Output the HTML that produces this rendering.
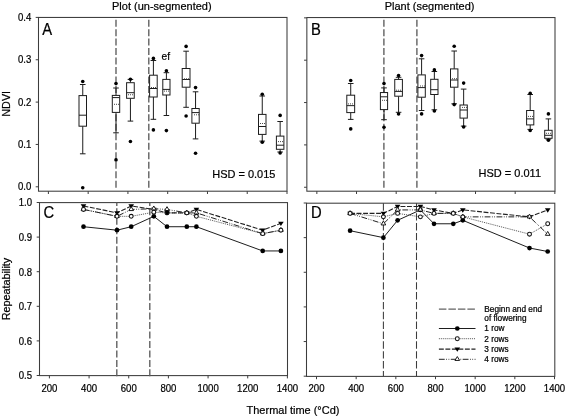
<!DOCTYPE html>
<html><head><meta charset="utf-8"><title>NDVI and repeatability</title>
<style>
html,body{margin:0;padding:0;background:#fff;}
body{width:567px;height:418px;overflow:hidden;}
svg{display:block;will-change:transform;}
text{font-family:"Liberation Sans", sans-serif;fill:#000;}
</style></head>
<body>
<svg width="567" height="418" viewBox="0 0 567 418">
<rect x="0" y="0" width="567" height="418" fill="#fff"/>
<rect x="38.5" y="17.45" width="248.50" height="173.75" fill="none" stroke="#3c3c3c" stroke-width="1.05"/>
<rect x="306.85" y="17.55" width="248.15" height="173.65" fill="none" stroke="#3c3c3c" stroke-width="1.05"/>
<rect x="39.5" y="202.6" width="248.00" height="173.00" fill="none" stroke="#3c3c3c" stroke-width="1.05"/>
<rect x="306.5" y="203.2" width="248.30" height="173.20" fill="none" stroke="#3c3c3c" stroke-width="1.05"/>
<line x1="48.40" y1="191.2" x2="48.40" y2="194.0" stroke="#3c3c3c" stroke-width="1.0"/>
<line x1="88.17" y1="191.2" x2="88.17" y2="194.0" stroke="#3c3c3c" stroke-width="1.0"/>
<line x1="127.93" y1="191.2" x2="127.93" y2="194.0" stroke="#3c3c3c" stroke-width="1.0"/>
<line x1="167.70" y1="191.2" x2="167.70" y2="194.0" stroke="#3c3c3c" stroke-width="1.0"/>
<line x1="207.47" y1="191.2" x2="207.47" y2="194.0" stroke="#3c3c3c" stroke-width="1.0"/>
<line x1="247.23" y1="191.2" x2="247.23" y2="194.0" stroke="#3c3c3c" stroke-width="1.0"/>
<line x1="287.00" y1="191.2" x2="287.00" y2="194.0" stroke="#3c3c3c" stroke-width="1.0"/>
<line x1="49.40" y1="375.6" x2="49.40" y2="378.40000000000003" stroke="#3c3c3c" stroke-width="1.0"/>
<line x1="89.07" y1="375.6" x2="89.07" y2="378.40000000000003" stroke="#3c3c3c" stroke-width="1.0"/>
<line x1="128.73" y1="375.6" x2="128.73" y2="378.40000000000003" stroke="#3c3c3c" stroke-width="1.0"/>
<line x1="168.40" y1="375.6" x2="168.40" y2="378.40000000000003" stroke="#3c3c3c" stroke-width="1.0"/>
<line x1="208.07" y1="375.6" x2="208.07" y2="378.40000000000003" stroke="#3c3c3c" stroke-width="1.0"/>
<line x1="247.73" y1="375.6" x2="247.73" y2="378.40000000000003" stroke="#3c3c3c" stroke-width="1.0"/>
<line x1="287.40" y1="375.6" x2="287.40" y2="378.40000000000003" stroke="#3c3c3c" stroke-width="1.0"/>
<line x1="316.85" y1="191.2" x2="316.85" y2="194.0" stroke="#3c3c3c" stroke-width="1.0"/>
<line x1="356.52" y1="191.2" x2="356.52" y2="194.0" stroke="#3c3c3c" stroke-width="1.0"/>
<line x1="396.18" y1="191.2" x2="396.18" y2="194.0" stroke="#3c3c3c" stroke-width="1.0"/>
<line x1="435.85" y1="191.2" x2="435.85" y2="194.0" stroke="#3c3c3c" stroke-width="1.0"/>
<line x1="475.52" y1="191.2" x2="475.52" y2="194.0" stroke="#3c3c3c" stroke-width="1.0"/>
<line x1="515.18" y1="191.2" x2="515.18" y2="194.0" stroke="#3c3c3c" stroke-width="1.0"/>
<line x1="554.85" y1="191.2" x2="554.85" y2="194.0" stroke="#3c3c3c" stroke-width="1.0"/>
<line x1="316.50" y1="376.4" x2="316.50" y2="379.2" stroke="#3c3c3c" stroke-width="1.0"/>
<line x1="356.17" y1="376.4" x2="356.17" y2="379.2" stroke="#3c3c3c" stroke-width="1.0"/>
<line x1="395.83" y1="376.4" x2="395.83" y2="379.2" stroke="#3c3c3c" stroke-width="1.0"/>
<line x1="435.50" y1="376.4" x2="435.50" y2="379.2" stroke="#3c3c3c" stroke-width="1.0"/>
<line x1="475.17" y1="376.4" x2="475.17" y2="379.2" stroke="#3c3c3c" stroke-width="1.0"/>
<line x1="514.83" y1="376.4" x2="514.83" y2="379.2" stroke="#3c3c3c" stroke-width="1.0"/>
<line x1="554.50" y1="376.4" x2="554.50" y2="379.2" stroke="#3c3c3c" stroke-width="1.0"/>
<line x1="35.7" y1="17.40" x2="38.5" y2="17.40" stroke="#3c3c3c" stroke-width="1.0"/>
<line x1="35.7" y1="59.75" x2="38.5" y2="59.75" stroke="#3c3c3c" stroke-width="1.0"/>
<line x1="35.7" y1="102.10" x2="38.5" y2="102.10" stroke="#3c3c3c" stroke-width="1.0"/>
<line x1="35.7" y1="144.45" x2="38.5" y2="144.45" stroke="#3c3c3c" stroke-width="1.0"/>
<line x1="35.7" y1="186.80" x2="38.5" y2="186.80" stroke="#3c3c3c" stroke-width="1.0"/>
<line x1="304.05" y1="17.85" x2="306.85" y2="17.85" stroke="#3c3c3c" stroke-width="1.0"/>
<line x1="304.05" y1="60.20" x2="306.85" y2="60.20" stroke="#3c3c3c" stroke-width="1.0"/>
<line x1="304.05" y1="102.55" x2="306.85" y2="102.55" stroke="#3c3c3c" stroke-width="1.0"/>
<line x1="304.05" y1="144.90" x2="306.85" y2="144.90" stroke="#3c3c3c" stroke-width="1.0"/>
<line x1="304.05" y1="187.25" x2="306.85" y2="187.25" stroke="#3c3c3c" stroke-width="1.0"/>
<line x1="36.7" y1="202.50" x2="39.5" y2="202.50" stroke="#3c3c3c" stroke-width="1.0"/>
<line x1="36.7" y1="237.10" x2="39.5" y2="237.10" stroke="#3c3c3c" stroke-width="1.0"/>
<line x1="36.7" y1="271.70" x2="39.5" y2="271.70" stroke="#3c3c3c" stroke-width="1.0"/>
<line x1="36.7" y1="306.30" x2="39.5" y2="306.30" stroke="#3c3c3c" stroke-width="1.0"/>
<line x1="36.7" y1="340.90" x2="39.5" y2="340.90" stroke="#3c3c3c" stroke-width="1.0"/>
<line x1="36.7" y1="375.50" x2="39.5" y2="375.50" stroke="#3c3c3c" stroke-width="1.0"/>
<line x1="303.7" y1="203.00" x2="306.5" y2="203.00" stroke="#3c3c3c" stroke-width="1.0"/>
<line x1="303.7" y1="237.64" x2="306.5" y2="237.64" stroke="#3c3c3c" stroke-width="1.0"/>
<line x1="303.7" y1="272.28" x2="306.5" y2="272.28" stroke="#3c3c3c" stroke-width="1.0"/>
<line x1="303.7" y1="306.92" x2="306.5" y2="306.92" stroke="#3c3c3c" stroke-width="1.0"/>
<line x1="303.7" y1="341.56" x2="306.5" y2="341.56" stroke="#3c3c3c" stroke-width="1.0"/>
<line x1="303.7" y1="376.20" x2="306.5" y2="376.20" stroke="#3c3c3c" stroke-width="1.0"/>
<text transform="translate(31.3 20.9) scale(0.93 1)" font-size="10.32" text-anchor="end" stroke="#000" stroke-width="0.22">0.4</text>
<text transform="translate(31.3 63.25) scale(0.93 1)" font-size="10.32" text-anchor="end" stroke="#000" stroke-width="0.22">0.3</text>
<text transform="translate(31.3 105.6) scale(0.93 1)" font-size="10.32" text-anchor="end" stroke="#000" stroke-width="0.22">0.2</text>
<text transform="translate(31.3 147.95) scale(0.93 1)" font-size="10.32" text-anchor="end" stroke="#000" stroke-width="0.22">0.1</text>
<text transform="translate(31.3 190.3) scale(0.93 1)" font-size="10.32" text-anchor="end" stroke="#000" stroke-width="0.22">0.0</text>
<text transform="translate(32.0 206.3) scale(0.93 1)" font-size="10.32" text-anchor="end" stroke="#000" stroke-width="0.22">1.0</text>
<text transform="translate(32.0 240.9) scale(0.93 1)" font-size="10.32" text-anchor="end" stroke="#000" stroke-width="0.22">0.9</text>
<text transform="translate(32.0 275.5) scale(0.93 1)" font-size="10.32" text-anchor="end" stroke="#000" stroke-width="0.22">0.8</text>
<text transform="translate(32.0 310.1) scale(0.93 1)" font-size="10.32" text-anchor="end" stroke="#000" stroke-width="0.22">0.7</text>
<text transform="translate(32.0 344.7) scale(0.93 1)" font-size="10.32" text-anchor="end" stroke="#000" stroke-width="0.22">0.6</text>
<text transform="translate(32.0 379.3) scale(0.93 1)" font-size="10.32" text-anchor="end" stroke="#000" stroke-width="0.22">0.5</text>
<text transform="translate(49.40 392.0) scale(0.93 1)" font-size="10.32" text-anchor="middle" stroke="#000" stroke-width="0.22">200</text>
<text transform="translate(316.50 392.3) scale(0.93 1)" font-size="10.32" text-anchor="middle" stroke="#000" stroke-width="0.22">200</text>
<text transform="translate(89.07 392.0) scale(0.93 1)" font-size="10.32" text-anchor="middle" stroke="#000" stroke-width="0.22">400</text>
<text transform="translate(356.17 392.3) scale(0.93 1)" font-size="10.32" text-anchor="middle" stroke="#000" stroke-width="0.22">400</text>
<text transform="translate(128.73 392.0) scale(0.93 1)" font-size="10.32" text-anchor="middle" stroke="#000" stroke-width="0.22">600</text>
<text transform="translate(395.83 392.3) scale(0.93 1)" font-size="10.32" text-anchor="middle" stroke="#000" stroke-width="0.22">600</text>
<text transform="translate(168.40 392.0) scale(0.93 1)" font-size="10.32" text-anchor="middle" stroke="#000" stroke-width="0.22">800</text>
<text transform="translate(435.50 392.3) scale(0.93 1)" font-size="10.32" text-anchor="middle" stroke="#000" stroke-width="0.22">800</text>
<text transform="translate(208.07 392.0) scale(0.93 1)" font-size="10.32" text-anchor="middle" stroke="#000" stroke-width="0.22">1000</text>
<text transform="translate(475.17 392.3) scale(0.93 1)" font-size="10.32" text-anchor="middle" stroke="#000" stroke-width="0.22">1000</text>
<text transform="translate(247.73 392.0) scale(0.93 1)" font-size="10.32" text-anchor="middle" stroke="#000" stroke-width="0.22">1200</text>
<text transform="translate(514.83 392.3) scale(0.93 1)" font-size="10.32" text-anchor="middle" stroke="#000" stroke-width="0.22">1200</text>
<text transform="translate(287.40 392.0) scale(0.93 1)" font-size="10.32" text-anchor="middle" stroke="#000" stroke-width="0.22">1400</text>
<text transform="translate(554.50 392.3) scale(0.93 1)" font-size="10.32" text-anchor="middle" stroke="#000" stroke-width="0.22">1400</text>
<text transform="translate(161.8 10.0) scale(0.93 1)" font-size="11.82" text-anchor="middle" stroke="#000" stroke-width="0.22">Plot (un-segmented)</text>
<text transform="translate(429.6 10.0) scale(0.93 1)" font-size="11.82" text-anchor="middle" stroke="#000" stroke-width="0.22">Plant (segmented)</text>
<text transform="translate(293.0 414.0) scale(0.93 1)" font-size="11.82" text-anchor="middle" stroke="#000" stroke-width="0.22">Thermal time (°Cd)</text>
<text transform="translate(10.4 103.8) rotate(-90) scale(0.93 1)" font-size="11.61" text-anchor="middle" stroke="#000" stroke-width="0.22">NDVI</text>
<text transform="translate(10.4 289) rotate(-90) scale(0.93 1)" font-size="11.61" text-anchor="middle" stroke="#000" stroke-width="0.22">Repeatability</text>
<text transform="translate(42.3 35.0) scale(0.93 1)" font-size="15.91" text-anchor="start" stroke="#000" stroke-width="0.22">A</text>
<text transform="translate(311.0 34.8) scale(0.93 1)" font-size="15.91" text-anchor="start" stroke="#000" stroke-width="0.22">B</text>
<text transform="translate(43.6 218.3) scale(0.93 1)" font-size="15.91" text-anchor="start" stroke="#000" stroke-width="0.22">C</text>
<text transform="translate(311.0 217.8) scale(0.93 1)" font-size="15.91" text-anchor="start" stroke="#000" stroke-width="0.22">D</text>
<text transform="translate(212.2 178.2) scale(0.93 1)" font-size="11.82" text-anchor="start" stroke="#000" stroke-width="0.22">HSD = 0.015</text>
<text transform="translate(478.6 176.6) scale(0.93 1)" font-size="11.82" text-anchor="start" stroke="#000" stroke-width="0.22">HSD = 0.011</text>
<text transform="translate(161.6 60.2) scale(0.93 1)" font-size="10.96" text-anchor="start" stroke="#000" stroke-width="0.22">ef</text>
<line x1="116.0" y1="187.65" x2="116.0" y2="17.4" stroke="#5c5c5c" stroke-width="1.35" stroke-dasharray="7.0 2.47"/>
<line x1="148.8" y1="187.65" x2="148.8" y2="17.4" stroke="#5c5c5c" stroke-width="1.35" stroke-dasharray="7.0 2.47"/>
<line x1="116.8" y1="376.35" x2="116.8" y2="202.5" stroke="#5c5c5c" stroke-width="1.35" stroke-dasharray="7.0 2.47"/>
<line x1="149.8" y1="376.35" x2="149.8" y2="202.5" stroke="#5c5c5c" stroke-width="1.35" stroke-dasharray="7.0 2.47"/>
<line x1="383.9" y1="187.65" x2="383.9" y2="17.4" stroke="#5c5c5c" stroke-width="1.35" stroke-dasharray="7.0 2.47"/>
<line x1="416.9" y1="187.65" x2="416.9" y2="17.4" stroke="#5c5c5c" stroke-width="1.35" stroke-dasharray="7.0 2.47"/>
<line x1="383.4" y1="203.3" x2="383.4" y2="376.2" stroke="#3c3c3c" stroke-width="1.05" stroke-dasharray="7.4 2.46"/>
<line x1="416.5" y1="203.3" x2="416.5" y2="376.2" stroke="#3c3c3c" stroke-width="1.05" stroke-dasharray="7.4 2.46"/>
<line x1="82.75" y1="84.5" x2="82.75" y2="95.6" stroke="#1c1c1c" stroke-width="1.0"/>
<line x1="82.75" y1="126.2" x2="82.75" y2="153.8" stroke="#1c1c1c" stroke-width="1.0"/>
<line x1="79.95" y1="84.5" x2="85.55" y2="84.5" stroke="#1c1c1c" stroke-width="1.0"/>
<line x1="79.95" y1="153.8" x2="85.55" y2="153.8" stroke="#1c1c1c" stroke-width="1.0"/>
<rect x="79.00" y="95.6" width="7.50" height="30.60" fill="#fff" stroke="#1c1c1c" stroke-width="1.0"/>
<line x1="79.00" y1="115.2" x2="86.50" y2="115.2" stroke="#1c1c1c" stroke-width="1.0"/>
<circle cx="82.75" cy="81.5" r="1.8" fill="#000"/>
<circle cx="82.75" cy="187.8" r="1.8" fill="#000"/>
<line x1="116.00" y1="88.0" x2="116.00" y2="95.4" stroke="#1c1c1c" stroke-width="1.0"/>
<line x1="116.00" y1="112.4" x2="116.00" y2="132.8" stroke="#1c1c1c" stroke-width="1.0"/>
<line x1="113.20" y1="88.0" x2="118.80" y2="88.0" stroke="#1c1c1c" stroke-width="1.0"/>
<line x1="113.20" y1="132.8" x2="118.80" y2="132.8" stroke="#1c1c1c" stroke-width="1.0"/>
<rect x="112.30" y="95.4" width="7.40" height="17.00" fill="#fff" stroke="#1c1c1c" stroke-width="1.0"/>
<line x1="112.30" y1="97.6" x2="119.70" y2="97.6" stroke="#1c1c1c" stroke-width="1.0"/>
<rect x="114" y="103.80" width="1" height="1" fill="#4a4a4a"/>
<rect x="116" y="103.80" width="1" height="1" fill="#4a4a4a"/>
<rect x="118" y="103.80" width="1" height="1" fill="#4a4a4a"/>
<circle cx="116.00" cy="83.6" r="1.8" fill="#000"/>
<circle cx="116.00" cy="159.9" r="1.8" fill="#000"/>
<line x1="130.43" y1="79.4" x2="130.43" y2="82.7" stroke="#1c1c1c" stroke-width="1.0"/>
<line x1="130.43" y1="98.3" x2="130.43" y2="121.1" stroke="#1c1c1c" stroke-width="1.0"/>
<line x1="127.63" y1="79.4" x2="133.23" y2="79.4" stroke="#1c1c1c" stroke-width="1.0"/>
<line x1="127.63" y1="121.1" x2="133.23" y2="121.1" stroke="#1c1c1c" stroke-width="1.0"/>
<rect x="126.60" y="82.7" width="7.65" height="15.60" fill="#fff" stroke="#1c1c1c" stroke-width="1.0"/>
<line x1="126.60" y1="92.7" x2="134.25" y2="92.7" stroke="#1c1c1c" stroke-width="1.0"/>
<rect x="128" y="94.25" width="1" height="1" fill="#4a4a4a"/>
<rect x="130" y="94.25" width="1" height="1" fill="#4a4a4a"/>
<rect x="132" y="94.25" width="1" height="1" fill="#4a4a4a"/>
<circle cx="130.43" cy="79.2" r="1.8" fill="#000"/>
<circle cx="130.43" cy="141.5" r="1.8" fill="#000"/>
<line x1="153.40" y1="60.5" x2="153.40" y2="75.2" stroke="#1c1c1c" stroke-width="1.0"/>
<line x1="153.40" y1="97.0" x2="153.40" y2="119.3" stroke="#1c1c1c" stroke-width="1.0"/>
<line x1="150.60" y1="60.5" x2="156.20" y2="60.5" stroke="#1c1c1c" stroke-width="1.0"/>
<line x1="150.60" y1="119.3" x2="156.20" y2="119.3" stroke="#1c1c1c" stroke-width="1.0"/>
<rect x="149.60" y="75.2" width="7.60" height="21.80" fill="#fff" stroke="#1c1c1c" stroke-width="1.0"/>
<line x1="149.60" y1="88.5" x2="157.20" y2="88.5" stroke="#1c1c1c" stroke-width="1.0"/>
<rect x="151" y="87.00" width="1" height="1" fill="#4a4a4a"/>
<rect x="153" y="87.00" width="1" height="1" fill="#4a4a4a"/>
<rect x="155" y="87.00" width="1" height="1" fill="#4a4a4a"/>
<circle cx="153.40" cy="58.4" r="1.8" fill="#000"/>
<circle cx="153.40" cy="129.9" r="1.8" fill="#000"/>
<line x1="166.40" y1="72.7" x2="166.40" y2="79.4" stroke="#1c1c1c" stroke-width="1.0"/>
<line x1="166.40" y1="95.0" x2="166.40" y2="115.5" stroke="#1c1c1c" stroke-width="1.0"/>
<line x1="163.60" y1="72.7" x2="169.20" y2="72.7" stroke="#1c1c1c" stroke-width="1.0"/>
<line x1="163.60" y1="115.5" x2="169.20" y2="115.5" stroke="#1c1c1c" stroke-width="1.0"/>
<rect x="162.80" y="79.4" width="7.20" height="15.60" fill="#fff" stroke="#1c1c1c" stroke-width="1.0"/>
<line x1="162.80" y1="89.4" x2="170.00" y2="89.4" stroke="#1c1c1c" stroke-width="1.0"/>
<rect x="164" y="90.60" width="1" height="1" fill="#4a4a4a"/>
<rect x="166" y="90.60" width="1" height="1" fill="#4a4a4a"/>
<rect x="168" y="90.60" width="1" height="1" fill="#4a4a4a"/>
<circle cx="166.40" cy="70.7" r="1.8" fill="#000"/>
<circle cx="166.40" cy="130.6" r="1.8" fill="#000"/>
<line x1="186.10" y1="51.2" x2="186.10" y2="68.5" stroke="#1c1c1c" stroke-width="1.0"/>
<line x1="186.10" y1="87.2" x2="186.10" y2="107.3" stroke="#1c1c1c" stroke-width="1.0"/>
<line x1="183.30" y1="51.2" x2="188.90" y2="51.2" stroke="#1c1c1c" stroke-width="1.0"/>
<line x1="183.30" y1="107.3" x2="188.90" y2="107.3" stroke="#1c1c1c" stroke-width="1.0"/>
<rect x="182.20" y="68.5" width="7.80" height="18.70" fill="#fff" stroke="#1c1c1c" stroke-width="1.0"/>
<line x1="182.20" y1="79.5" x2="190.00" y2="79.5" stroke="#1c1c1c" stroke-width="1.0"/>
<rect x="184" y="78.30" width="1" height="1" fill="#4a4a4a"/>
<rect x="186" y="78.30" width="1" height="1" fill="#4a4a4a"/>
<rect x="188" y="78.30" width="1" height="1" fill="#4a4a4a"/>
<circle cx="186.10" cy="46.4" r="1.8" fill="#000"/>
<circle cx="186.10" cy="116.0" r="1.8" fill="#000"/>
<line x1="195.55" y1="91.8" x2="195.55" y2="108.5" stroke="#1c1c1c" stroke-width="1.0"/>
<line x1="195.55" y1="123.2" x2="195.55" y2="138.9" stroke="#1c1c1c" stroke-width="1.0"/>
<line x1="192.75" y1="91.8" x2="198.35" y2="91.8" stroke="#1c1c1c" stroke-width="1.0"/>
<line x1="192.75" y1="138.9" x2="198.35" y2="138.9" stroke="#1c1c1c" stroke-width="1.0"/>
<rect x="191.90" y="108.5" width="7.30" height="14.70" fill="#fff" stroke="#1c1c1c" stroke-width="1.0"/>
<line x1="191.90" y1="112.6" x2="199.20" y2="112.6" stroke="#1c1c1c" stroke-width="1.0"/>
<rect x="194" y="114.30" width="1" height="1" fill="#4a4a4a"/>
<rect x="196" y="114.30" width="1" height="1" fill="#4a4a4a"/>
<rect x="198" y="114.30" width="1" height="1" fill="#4a4a4a"/>
<circle cx="195.55" cy="87.6" r="1.8" fill="#000"/>
<circle cx="195.55" cy="153.3" r="1.8" fill="#000"/>
<line x1="262.25" y1="96.0" x2="262.25" y2="114.4" stroke="#1c1c1c" stroke-width="1.0"/>
<line x1="262.25" y1="134.4" x2="262.25" y2="141.1" stroke="#1c1c1c" stroke-width="1.0"/>
<line x1="259.45" y1="96.0" x2="265.05" y2="96.0" stroke="#1c1c1c" stroke-width="1.0"/>
<line x1="259.45" y1="141.1" x2="265.05" y2="141.1" stroke="#1c1c1c" stroke-width="1.0"/>
<rect x="258.50" y="114.4" width="7.50" height="20.00" fill="#fff" stroke="#1c1c1c" stroke-width="1.0"/>
<line x1="258.50" y1="126.5" x2="266.00" y2="126.5" stroke="#1c1c1c" stroke-width="1.0"/>
<rect x="260" y="123.00" width="1" height="1" fill="#4a4a4a"/>
<rect x="262" y="123.00" width="1" height="1" fill="#4a4a4a"/>
<rect x="264" y="123.00" width="1" height="1" fill="#4a4a4a"/>
<circle cx="262.25" cy="94.2" r="1.8" fill="#000"/>
<circle cx="262.25" cy="142.3" r="1.8" fill="#000"/>
<line x1="280.15" y1="121.5" x2="280.15" y2="136.1" stroke="#1c1c1c" stroke-width="1.0"/>
<line x1="280.15" y1="149.3" x2="280.15" y2="152.0" stroke="#1c1c1c" stroke-width="1.0"/>
<line x1="277.35" y1="121.5" x2="282.95" y2="121.5" stroke="#1c1c1c" stroke-width="1.0"/>
<line x1="277.35" y1="152.0" x2="282.95" y2="152.0" stroke="#1c1c1c" stroke-width="1.0"/>
<rect x="276.40" y="136.1" width="7.50" height="13.20" fill="#fff" stroke="#1c1c1c" stroke-width="1.0"/>
<line x1="276.40" y1="145.2" x2="283.90" y2="145.2" stroke="#1c1c1c" stroke-width="1.0"/>
<rect x="278" y="141.10" width="1" height="1" fill="#4a4a4a"/>
<rect x="280" y="141.10" width="1" height="1" fill="#4a4a4a"/>
<rect x="282" y="141.10" width="1" height="1" fill="#4a4a4a"/>
<circle cx="280.15" cy="115.4" r="1.8" fill="#000"/>
<circle cx="280.15" cy="153.0" r="1.8" fill="#000"/>
<line x1="350.73" y1="83.5" x2="350.73" y2="95.2" stroke="#1c1c1c" stroke-width="1.0"/>
<line x1="350.73" y1="112.6" x2="350.73" y2="119.4" stroke="#1c1c1c" stroke-width="1.0"/>
<line x1="347.93" y1="83.5" x2="353.53" y2="83.5" stroke="#1c1c1c" stroke-width="1.0"/>
<line x1="347.93" y1="119.4" x2="353.53" y2="119.4" stroke="#1c1c1c" stroke-width="1.0"/>
<rect x="346.80" y="95.2" width="7.85" height="17.40" fill="#fff" stroke="#1c1c1c" stroke-width="1.0"/>
<line x1="346.80" y1="105.65" x2="354.65" y2="105.65" stroke="#1c1c1c" stroke-width="1.0"/>
<rect x="348" y="103.40" width="1" height="1" fill="#4a4a4a"/>
<rect x="350" y="103.40" width="1" height="1" fill="#4a4a4a"/>
<rect x="352" y="103.40" width="1" height="1" fill="#4a4a4a"/>
<circle cx="350.73" cy="80.5" r="1.8" fill="#000"/>
<circle cx="350.73" cy="128.9" r="1.8" fill="#000"/>
<line x1="384.00" y1="87.9" x2="384.00" y2="92.55" stroke="#1c1c1c" stroke-width="1.0"/>
<line x1="384.00" y1="109.6" x2="384.00" y2="119.7" stroke="#1c1c1c" stroke-width="1.0"/>
<line x1="381.20" y1="87.9" x2="386.80" y2="87.9" stroke="#1c1c1c" stroke-width="1.0"/>
<line x1="381.20" y1="119.7" x2="386.80" y2="119.7" stroke="#1c1c1c" stroke-width="1.0"/>
<rect x="380.40" y="92.55" width="7.20" height="17.05" fill="#fff" stroke="#1c1c1c" stroke-width="1.0"/>
<line x1="380.40" y1="96.8" x2="387.60" y2="96.8" stroke="#1c1c1c" stroke-width="1.0"/>
<rect x="382" y="99.80" width="1" height="1" fill="#4a4a4a"/>
<rect x="384" y="99.80" width="1" height="1" fill="#4a4a4a"/>
<rect x="386" y="99.80" width="1" height="1" fill="#4a4a4a"/>
<circle cx="384.00" cy="83.6" r="1.8" fill="#000"/>
<circle cx="384.00" cy="127.2" r="1.8" fill="#000"/>
<line x1="398.57" y1="77.3" x2="398.57" y2="79.4" stroke="#1c1c1c" stroke-width="1.0"/>
<line x1="398.57" y1="96.2" x2="398.57" y2="112.3" stroke="#1c1c1c" stroke-width="1.0"/>
<line x1="395.77" y1="77.3" x2="401.38" y2="77.3" stroke="#1c1c1c" stroke-width="1.0"/>
<line x1="395.77" y1="112.3" x2="401.38" y2="112.3" stroke="#1c1c1c" stroke-width="1.0"/>
<rect x="394.75" y="79.4" width="7.65" height="16.80" fill="#fff" stroke="#1c1c1c" stroke-width="1.0"/>
<line x1="394.75" y1="91.4" x2="402.40" y2="91.4" stroke="#1c1c1c" stroke-width="1.0"/>
<rect x="396" y="89.70" width="1" height="1" fill="#4a4a4a"/>
<rect x="398" y="89.70" width="1" height="1" fill="#4a4a4a"/>
<rect x="400" y="89.70" width="1" height="1" fill="#4a4a4a"/>
<circle cx="398.57" cy="75.6" r="1.8" fill="#000"/>
<circle cx="398.57" cy="114.0" r="1.8" fill="#000"/>
<line x1="421.60" y1="58.8" x2="421.60" y2="74.9" stroke="#1c1c1c" stroke-width="1.0"/>
<line x1="421.60" y1="97.2" x2="421.60" y2="110.5" stroke="#1c1c1c" stroke-width="1.0"/>
<line x1="418.80" y1="58.8" x2="424.40" y2="58.8" stroke="#1c1c1c" stroke-width="1.0"/>
<line x1="418.80" y1="110.5" x2="424.40" y2="110.5" stroke="#1c1c1c" stroke-width="1.0"/>
<rect x="417.90" y="74.9" width="7.40" height="22.30" fill="#fff" stroke="#1c1c1c" stroke-width="1.0"/>
<line x1="417.90" y1="87.6" x2="425.30" y2="87.6" stroke="#1c1c1c" stroke-width="1.0"/>
<rect x="420" y="85.50" width="1" height="1" fill="#4a4a4a"/>
<rect x="422" y="85.50" width="1" height="1" fill="#4a4a4a"/>
<rect x="424" y="85.50" width="1" height="1" fill="#4a4a4a"/>
<circle cx="421.60" cy="55.6" r="1.8" fill="#000"/>
<circle cx="421.60" cy="113.9" r="1.8" fill="#000"/>
<line x1="434.35" y1="71.5" x2="434.35" y2="79.3" stroke="#1c1c1c" stroke-width="1.0"/>
<line x1="434.35" y1="94.5" x2="434.35" y2="109.8" stroke="#1c1c1c" stroke-width="1.0"/>
<line x1="431.55" y1="71.5" x2="437.15" y2="71.5" stroke="#1c1c1c" stroke-width="1.0"/>
<line x1="431.55" y1="109.8" x2="437.15" y2="109.8" stroke="#1c1c1c" stroke-width="1.0"/>
<rect x="430.70" y="79.3" width="7.30" height="15.20" fill="#fff" stroke="#1c1c1c" stroke-width="1.0"/>
<line x1="430.70" y1="89.7" x2="438.00" y2="89.7" stroke="#1c1c1c" stroke-width="1.0"/>
<circle cx="434.35" cy="69.9" r="1.8" fill="#000"/>
<circle cx="434.35" cy="111.0" r="1.8" fill="#000"/>
<line x1="454.20" y1="51.0" x2="454.20" y2="68.9" stroke="#1c1c1c" stroke-width="1.0"/>
<line x1="454.20" y1="87.2" x2="454.20" y2="103.8" stroke="#1c1c1c" stroke-width="1.0"/>
<line x1="451.40" y1="51.0" x2="457.00" y2="51.0" stroke="#1c1c1c" stroke-width="1.0"/>
<line x1="451.40" y1="103.8" x2="457.00" y2="103.8" stroke="#1c1c1c" stroke-width="1.0"/>
<rect x="450.50" y="68.9" width="7.40" height="18.30" fill="#fff" stroke="#1c1c1c" stroke-width="1.0"/>
<line x1="450.50" y1="80.0" x2="457.90" y2="80.0" stroke="#1c1c1c" stroke-width="1.0"/>
<rect x="452" y="78.20" width="1" height="1" fill="#4a4a4a"/>
<rect x="454" y="78.20" width="1" height="1" fill="#4a4a4a"/>
<rect x="456" y="78.20" width="1" height="1" fill="#4a4a4a"/>
<circle cx="454.20" cy="46.2" r="1.8" fill="#000"/>
<circle cx="454.20" cy="104.6" r="1.8" fill="#000"/>
<line x1="463.65" y1="89.1" x2="463.65" y2="105.0" stroke="#1c1c1c" stroke-width="1.0"/>
<line x1="463.65" y1="118.1" x2="463.65" y2="126.1" stroke="#1c1c1c" stroke-width="1.0"/>
<line x1="460.85" y1="89.1" x2="466.45" y2="89.1" stroke="#1c1c1c" stroke-width="1.0"/>
<line x1="460.85" y1="126.1" x2="466.45" y2="126.1" stroke="#1c1c1c" stroke-width="1.0"/>
<rect x="460.00" y="105.0" width="7.30" height="13.10" fill="#fff" stroke="#1c1c1c" stroke-width="1.0"/>
<line x1="460.00" y1="110.0" x2="467.30" y2="110.0" stroke="#1c1c1c" stroke-width="1.0"/>
<rect x="462" y="106.90" width="1" height="1" fill="#4a4a4a"/>
<rect x="464" y="106.90" width="1" height="1" fill="#4a4a4a"/>
<rect x="466" y="106.90" width="1" height="1" fill="#4a4a4a"/>
<circle cx="463.65" cy="83.1" r="1.8" fill="#000"/>
<circle cx="463.65" cy="127.0" r="1.8" fill="#000"/>
<line x1="530.20" y1="94.5" x2="530.20" y2="110.5" stroke="#1c1c1c" stroke-width="1.0"/>
<line x1="530.20" y1="124.9" x2="530.20" y2="129.4" stroke="#1c1c1c" stroke-width="1.0"/>
<line x1="527.40" y1="94.5" x2="533.00" y2="94.5" stroke="#1c1c1c" stroke-width="1.0"/>
<line x1="527.40" y1="129.4" x2="533.00" y2="129.4" stroke="#1c1c1c" stroke-width="1.0"/>
<rect x="526.60" y="110.5" width="7.20" height="14.40" fill="#fff" stroke="#1c1c1c" stroke-width="1.0"/>
<line x1="526.60" y1="118.9" x2="533.80" y2="118.9" stroke="#1c1c1c" stroke-width="1.0"/>
<rect x="528" y="115.90" width="1" height="1" fill="#4a4a4a"/>
<rect x="530" y="115.90" width="1" height="1" fill="#4a4a4a"/>
<rect x="532" y="115.90" width="1" height="1" fill="#4a4a4a"/>
<circle cx="530.20" cy="93.2" r="1.8" fill="#000"/>
<circle cx="530.20" cy="130.5" r="1.8" fill="#000"/>
<line x1="548.40" y1="118.9" x2="548.40" y2="130.3" stroke="#1c1c1c" stroke-width="1.0"/>
<line x1="548.40" y1="138.3" x2="548.40" y2="139.2" stroke="#1c1c1c" stroke-width="1.0"/>
<line x1="545.60" y1="118.9" x2="551.20" y2="118.9" stroke="#1c1c1c" stroke-width="1.0"/>
<line x1="545.60" y1="139.2" x2="551.20" y2="139.2" stroke="#1c1c1c" stroke-width="1.0"/>
<rect x="544.70" y="130.3" width="7.40" height="8.00" fill="#fff" stroke="#1c1c1c" stroke-width="1.0"/>
<line x1="544.70" y1="135.3" x2="552.10" y2="135.3" stroke="#1c1c1c" stroke-width="1.0"/>
<rect x="546" y="132.80" width="1" height="1" fill="#4a4a4a"/>
<rect x="548" y="132.80" width="1" height="1" fill="#4a4a4a"/>
<rect x="550" y="132.80" width="1" height="1" fill="#4a4a4a"/>
<circle cx="548.40" cy="113.9" r="1.8" fill="#000"/>
<circle cx="548.40" cy="140.2" r="1.8" fill="#000"/>
<polyline points="83.50,226.72 117.00,230.18 131.20,226.72 153.80,216.34 167.00,226.72 186.80,226.72 196.40,226.72 262.70,250.94 280.90,250.94" fill="none" stroke="#111" stroke-width="0.95"/>
<polyline points="83.50,209.42 117.00,216.34 131.20,216.34 153.80,212.19 167.00,212.88 186.80,212.88 196.40,216.34 262.70,233.64 280.90,230.18" fill="none" stroke="#444" stroke-width="0.9" stroke-dasharray="1 0.95"/>
<polyline points="83.50,205.96 117.00,212.88 131.20,205.96 153.80,209.42 167.00,212.88 186.80,212.88 196.40,209.42 262.70,230.18 280.90,223.26" fill="none" stroke="#222" stroke-width="1.1" stroke-dasharray="4.9 1.6"/>
<polyline points="83.50,209.42 117.00,216.34 131.20,209.42 153.80,208.73 167.00,209.42 186.80,212.88 196.40,212.88 262.70,233.64 280.90,230.18" fill="none" stroke="#222" stroke-width="1.0" stroke-dasharray="5.8 1.5 0.8 1.5 0.8 1.5"/>
<circle cx="83.50" cy="226.72" r="2.35" fill="#000"/>
<circle cx="117.00" cy="230.18" r="2.35" fill="#000"/>
<circle cx="131.20" cy="226.72" r="2.35" fill="#000"/>
<circle cx="153.80" cy="216.34" r="2.35" fill="#000"/>
<circle cx="167.00" cy="226.72" r="2.35" fill="#000"/>
<circle cx="186.80" cy="226.72" r="2.35" fill="#000"/>
<circle cx="196.40" cy="226.72" r="2.35" fill="#000"/>
<circle cx="262.70" cy="250.94" r="2.35" fill="#000"/>
<circle cx="280.90" cy="250.94" r="2.35" fill="#000"/>
<path d="M80.70 204.36L86.30 204.36L83.50 208.66Z" fill="#000"/>
<path d="M114.20 211.28L119.80 211.28L117.00 215.58Z" fill="#000"/>
<path d="M128.40 204.36L134.00 204.36L131.20 208.66Z" fill="#000"/>
<path d="M151.00 207.82L156.60 207.82L153.80 212.12Z" fill="#000"/>
<path d="M164.20 211.28L169.80 211.28L167.00 215.58Z" fill="#000"/>
<path d="M184.00 211.28L189.60 211.28L186.80 215.58Z" fill="#000"/>
<path d="M193.60 207.82L199.20 207.82L196.40 212.12Z" fill="#000"/>
<path d="M259.90 228.58L265.50 228.58L262.70 232.88Z" fill="#000"/>
<path d="M278.10 221.66L283.70 221.66L280.90 225.96Z" fill="#000"/>
<path d="M81.15 210.57L85.85 210.57L83.50 206.67Z" fill="#fff" stroke="#111" stroke-width="0.95"/>
<path d="M114.65 217.49L119.35 217.49L117.00 213.59Z" fill="#fff" stroke="#111" stroke-width="0.95"/>
<path d="M128.85 210.57L133.55 210.57L131.20 206.67Z" fill="#fff" stroke="#111" stroke-width="0.95"/>
<path d="M151.45 209.88L156.15 209.88L153.80 205.98Z" fill="#fff" stroke="#111" stroke-width="0.95"/>
<path d="M164.65 210.57L169.35 210.57L167.00 206.67Z" fill="#fff" stroke="#111" stroke-width="0.95"/>
<path d="M184.45 214.03L189.15 214.03L186.80 210.13Z" fill="#fff" stroke="#111" stroke-width="0.95"/>
<path d="M194.05 214.03L198.75 214.03L196.40 210.13Z" fill="#fff" stroke="#111" stroke-width="0.95"/>
<path d="M260.35 234.79L265.05 234.79L262.70 230.89Z" fill="#fff" stroke="#111" stroke-width="0.95"/>
<path d="M278.55 231.33L283.25 231.33L280.90 227.43Z" fill="#fff" stroke="#111" stroke-width="0.95"/>
<circle cx="83.50" cy="209.42" r="1.95" fill="#fff" stroke="#111" stroke-width="1.05"/>
<circle cx="117.00" cy="216.34" r="1.95" fill="#fff" stroke="#111" stroke-width="1.05"/>
<circle cx="131.20" cy="216.34" r="1.95" fill="#fff" stroke="#111" stroke-width="1.05"/>
<circle cx="153.80" cy="212.19" r="1.95" fill="#fff" stroke="#111" stroke-width="1.05"/>
<circle cx="167.00" cy="212.88" r="1.95" fill="#fff" stroke="#111" stroke-width="1.05"/>
<circle cx="186.80" cy="212.88" r="1.95" fill="#fff" stroke="#111" stroke-width="1.05"/>
<circle cx="196.40" cy="216.34" r="1.95" fill="#fff" stroke="#111" stroke-width="1.05"/>
<circle cx="262.70" cy="233.64" r="1.95" fill="#fff" stroke="#111" stroke-width="1.05"/>
<circle cx="280.90" cy="230.18" r="1.95" fill="#fff" stroke="#111" stroke-width="1.05"/>
<ellipse cx="167.1" cy="212.6" rx="1.9" ry="2.4" fill="#000"/>
<polyline points="350.10,230.71 383.40,237.64 397.60,220.32 420.40,209.93 434.00,223.78 453.30,223.78 462.80,220.32 529.50,248.03 547.70,251.50" fill="none" stroke="#111" stroke-width="0.95"/>
<polyline points="350.10,213.39 383.40,216.86 397.60,213.39 420.40,216.86 434.00,213.39 453.30,213.39 462.80,216.86 529.50,234.18 547.70,223.78" fill="none" stroke="#444" stroke-width="0.9" stroke-dasharray="1 0.95"/>
<polyline points="350.10,213.39 383.40,213.39 397.60,206.46 420.40,206.46 434.00,209.93 453.30,213.39 462.80,209.93 529.50,216.86 547.70,209.93" fill="none" stroke="#222" stroke-width="1.1" stroke-dasharray="4.9 1.6"/>
<polyline points="350.10,213.39 383.40,223.78 397.60,209.93 420.40,209.93 434.00,213.39 453.30,213.39 462.80,216.86 529.50,216.86 547.70,234.18" fill="none" stroke="#222" stroke-width="1.0" stroke-dasharray="5.8 1.5 0.8 1.5 0.8 1.5"/>
<circle cx="350.10" cy="230.71" r="2.35" fill="#000"/>
<circle cx="383.40" cy="237.64" r="2.35" fill="#000"/>
<circle cx="397.60" cy="220.32" r="2.35" fill="#000"/>
<circle cx="420.40" cy="209.93" r="2.35" fill="#000"/>
<circle cx="434.00" cy="223.78" r="2.35" fill="#000"/>
<circle cx="453.30" cy="223.78" r="2.35" fill="#000"/>
<circle cx="462.80" cy="220.32" r="2.35" fill="#000"/>
<circle cx="529.50" cy="248.03" r="2.35" fill="#000"/>
<circle cx="547.70" cy="251.50" r="2.35" fill="#000"/>
<path d="M347.30 211.79L352.90 211.79L350.10 216.09Z" fill="#000"/>
<path d="M380.60 211.79L386.20 211.79L383.40 216.09Z" fill="#000"/>
<path d="M394.80 204.86L400.40 204.86L397.60 209.16Z" fill="#000"/>
<path d="M417.60 204.86L423.20 204.86L420.40 209.16Z" fill="#000"/>
<path d="M431.20 208.33L436.80 208.33L434.00 212.63Z" fill="#000"/>
<path d="M450.50 211.79L456.10 211.79L453.30 216.09Z" fill="#000"/>
<path d="M460.00 208.33L465.60 208.33L462.80 212.63Z" fill="#000"/>
<path d="M526.70 215.26L532.30 215.26L529.50 219.56Z" fill="#000"/>
<path d="M544.90 208.33L550.50 208.33L547.70 212.63Z" fill="#000"/>
<path d="M347.75 214.54L352.45 214.54L350.10 210.64Z" fill="#fff" stroke="#111" stroke-width="0.95"/>
<path d="M381.05 224.93L385.75 224.93L383.40 221.03Z" fill="#fff" stroke="#111" stroke-width="0.95"/>
<path d="M395.25 211.08L399.95 211.08L397.60 207.18Z" fill="#fff" stroke="#111" stroke-width="0.95"/>
<path d="M418.05 211.08L422.75 211.08L420.40 207.18Z" fill="#fff" stroke="#111" stroke-width="0.95"/>
<path d="M431.65 214.54L436.35 214.54L434.00 210.64Z" fill="#fff" stroke="#111" stroke-width="0.95"/>
<path d="M450.95 214.54L455.65 214.54L453.30 210.64Z" fill="#fff" stroke="#111" stroke-width="0.95"/>
<path d="M460.45 218.01L465.15 218.01L462.80 214.11Z" fill="#fff" stroke="#111" stroke-width="0.95"/>
<path d="M527.15 218.01L531.85 218.01L529.50 214.11Z" fill="#fff" stroke="#111" stroke-width="0.95"/>
<path d="M545.35 235.33L550.05 235.33L547.70 231.43Z" fill="#fff" stroke="#111" stroke-width="0.95"/>
<circle cx="350.10" cy="213.39" r="1.95" fill="#fff" stroke="#111" stroke-width="1.05"/>
<circle cx="383.40" cy="216.86" r="1.95" fill="#fff" stroke="#111" stroke-width="1.05"/>
<circle cx="397.60" cy="213.39" r="1.95" fill="#fff" stroke="#111" stroke-width="1.05"/>
<circle cx="420.40" cy="216.86" r="1.95" fill="#fff" stroke="#111" stroke-width="1.05"/>
<circle cx="434.00" cy="213.39" r="1.95" fill="#fff" stroke="#111" stroke-width="1.05"/>
<circle cx="453.30" cy="213.39" r="1.95" fill="#fff" stroke="#111" stroke-width="1.05"/>
<circle cx="462.80" cy="216.86" r="1.95" fill="#fff" stroke="#111" stroke-width="1.05"/>
<circle cx="529.50" cy="234.18" r="1.95" fill="#fff" stroke="#111" stroke-width="1.05"/>
<circle cx="547.70" cy="223.78" r="1.95" fill="#fff" stroke="#111" stroke-width="1.05"/>
<line x1="438.9" y1="309.1" x2="475.5" y2="309.1" stroke="#636363" stroke-width="1.45" stroke-dasharray="7.5 2.0"/>
<line x1="438.9" y1="328.5" x2="475.5" y2="328.5" stroke="#111" stroke-width="0.95"/>
<circle cx="457.30" cy="328.50" r="2.35" fill="#000"/>
<line x1="438.9" y1="338.7" x2="475.5" y2="338.7" stroke="#444" stroke-width="0.9" stroke-dasharray="1 0.95"/>
<circle cx="457.30" cy="338.70" r="1.95" fill="#fff" stroke="#111" stroke-width="1.05"/>
<line x1="438.9" y1="349.1" x2="475.5" y2="349.1" stroke="#222" stroke-width="1.1" stroke-dasharray="4.9 1.6"/>
<path d="M454.50 347.50L460.10 347.50L457.30 351.80Z" fill="#000"/>
<line x1="438.9" y1="359.3" x2="475.5" y2="359.3" stroke="#222" stroke-width="1.0" stroke-dasharray="5.8 1.5 0.8 1.5 0.8 1.5"/>
<path d="M454.95 360.45L459.65 360.45L457.30 356.55Z" fill="#fff" stroke="#111" stroke-width="0.95"/>
<text transform="translate(484.3 311.9) scale(1.0 1)" font-size="8.25" text-anchor="start" stroke="#000" stroke-width="0.22">Beginn and end</text>
<text transform="translate(484.3 320.7) scale(1.0 1)" font-size="8.25" text-anchor="start" stroke="#000" stroke-width="0.22">of flowering</text>
<text transform="translate(484.3 331.2) scale(1.0 1)" font-size="8.25" text-anchor="start" stroke="#000" stroke-width="0.22">1 row</text>
<text transform="translate(484.3 341.8) scale(1.0 1)" font-size="8.25" text-anchor="start" stroke="#000" stroke-width="0.22">2 rows</text>
<text transform="translate(484.3 352.0) scale(1.0 1)" font-size="8.25" text-anchor="start" stroke="#000" stroke-width="0.22">3 rows</text>
<text transform="translate(484.3 361.6) scale(1.0 1)" font-size="8.25" text-anchor="start" stroke="#000" stroke-width="0.22">4 rows</text>
</svg>
</body></html>
